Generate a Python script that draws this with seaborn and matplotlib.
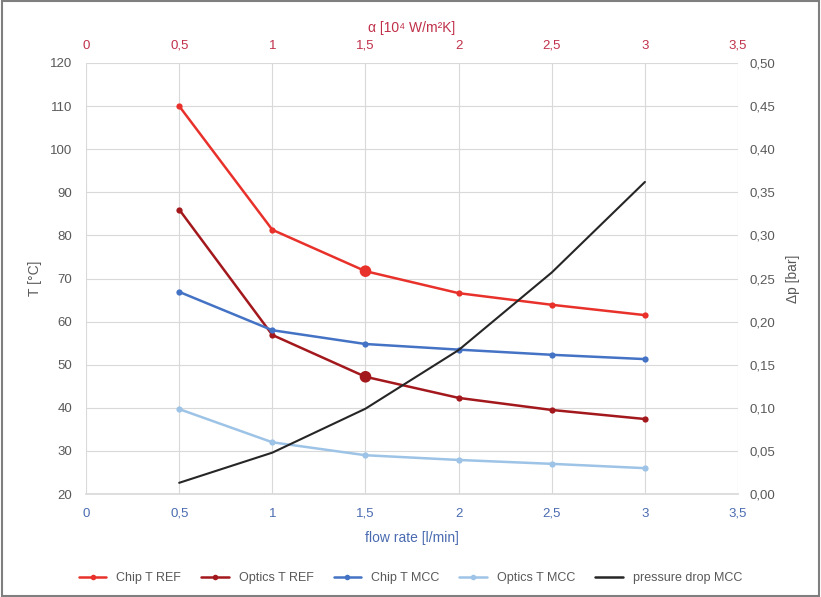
import numpy as np
import pandas as pd
import matplotlib
matplotlib.use("Agg")
import matplotlib.pyplot as plt
import seaborn as sns
from matplotlib.ticker import FuncFormatter, MultipleLocator
from matplotlib.lines import Line2D

# data
flow = [0.5, 1.0, 1.5, 2.0, 2.5, 3.0]
chip_ref = [110.0, 81.3, 71.7, 66.6, 63.9, 61.5]
optics_ref = [86.0, 56.9, 47.2, 42.3, 39.5, 37.4]
chip_mcc = [66.9, 58.0, 54.8, 53.5, 52.3, 51.3]
optics_mcc = [39.7, 32.0, 29.0, 27.9, 27.0, 26.0]
dp_mcc = [0.013, 0.048, 0.099, 0.167, 0.257, 0.362]
highlight_x = [1.5]

series = {
    "Chip T REF": (chip_ref, "#e8312a"),
    "Optics T REF": (optics_ref, "#a3181c"),
    "Chip T MCC": (chip_mcc, "#4472c4"),
    "Optics T MCC": (optics_mcc, "#9dc3e6"),
}
dp_color = "#262626"

sns.set_theme(style="white")
plt.rcParams["font.family"] = ["Liberation Sans", "DejaVu Sans"]

fig = plt.figure(figsize=(8.21, 5.97), dpi=100)
ax = fig.add_axes([0.1048, 0.1725, 0.7942, 0.722])

for name, (vals, col) in series.items():
    df = pd.DataFrame({"flow": flow, "T": vals})
    sns.lineplot(data=df, x="flow", y="T", ax=ax, color=col, lw=1.8,
                 marker="o", markersize=4.5, markeredgewidth=0, legend=False)
    if name.endswith("REF"):
        hl = df[df["flow"].isin(highlight_x)]
        sns.scatterplot(data=hl, x="flow", y="T", ax=ax, color=col, s=70,
                        edgecolor="none", legend=False, zorder=5)

ax.set_xlim(0, 3.5)
ax.set_ylim(20, 120)
ax.xaxis.set_major_locator(MultipleLocator(0.5))
ax.yaxis.set_major_locator(MultipleLocator(10))
ax.grid(True, color="#d9d9d9", lw=0.8)
ax.set_axisbelow(True)
for s in ax.spines.values():
    s.set_visible(False)
ax.spines["bottom"].set_visible(True)
ax.spines["bottom"].set_color("#d9d9d9")

comma = FuncFormatter(lambda v, p: f"{v:g}".replace(".", ","))
ax.xaxis.set_major_formatter(comma)
ax.tick_params(axis="x", colors="#4a6bb0", labelsize=9.5, length=0, pad=10)
ax.tick_params(axis="y", colors="#595959", labelsize=9.5, length=0, pad=10)
ax.set_xlabel("flow rate [l/min]", color="#4a6bb0", fontsize=10, labelpad=8)
ax.set_ylabel("T [°C]", color="#595959", fontsize=10, labelpad=6)

# right axis: pressure drop
ax2 = ax.twinx()
sns.lineplot(x=flow, y=dp_mcc, ax=ax2, color=dp_color, lw=1.5, legend=False)
ax2.set_ylim(0, 0.5)
ax2.yaxis.set_major_locator(MultipleLocator(0.05))
ax2.yaxis.set_major_formatter(FuncFormatter(lambda v, p: f"{v:.2f}".replace(".", ",")))
ax2.tick_params(axis="y", colors="#595959", labelsize=9.5, length=0, pad=8)
ax2.set_ylabel("Δp [bar]", color="#595959", fontsize=10, labelpad=8)
ax2.grid(False)
for s in ax2.spines.values():
    s.set_visible(False)

# top axis: heat transfer coefficient
ax3 = ax.twiny()
ax3.set_xlim(0, 3.5)
ax3.xaxis.set_major_locator(MultipleLocator(0.5))
ax3.xaxis.set_major_formatter(comma)
ax3.tick_params(axis="x", colors="#c0304a", labelsize=9.5, length=0, pad=8)
ax3.set_xlabel("α [10⁴ W/m²K]", color="#c0304a", fontsize=10, labelpad=6)
ax3.grid(False)
for s in ax3.spines.values():
    s.set_visible(False)

handles = [Line2D([], [], color=c, lw=1.8, marker="o", markersize=4, markeredgewidth=0)
           for _, (_, c) in series.items()]
handles.append(Line2D([], [], color=dp_color, lw=1.8))
labels = list(series.keys()) + ["pressure drop MCC"]
fig.legend(handles, labels, loc="center", bbox_to_anchor=(0.5, 0.032), ncol=5,
           frameon=False, fontsize=9, handlelength=2.2, columnspacing=1.6,
           labelcolor="#595959")

fig.patches.append(plt.Rectangle((0.002, 0.002), 0.996, 0.996, transform=fig.transFigure,
                                 fill=False, edgecolor="#7f7f7f", lw=1.5))

fig.savefig("out.png", dpi=100)
